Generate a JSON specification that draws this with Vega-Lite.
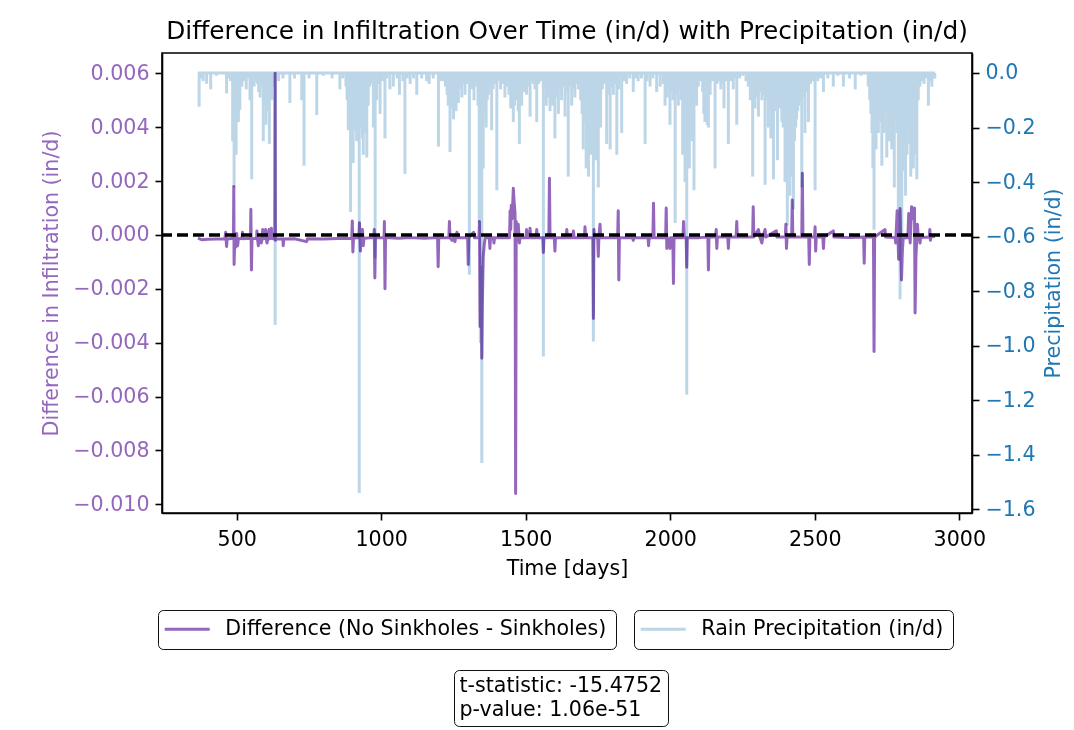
{
  "$schema": "https://vega.github.io/schema/vega-lite/v6.json",
  "width": 810,
  "height": 460,
  "autosize": "none",
  "padding": {"left": 162, "top": 53, "right": 102, "bottom": 217},
  "background": "white",
  "title": {"text": "Difference in Infiltration Over Time (in/d) with Precipitation (in/d)", "frame": "group", "anchor": "middle", "offset": 9.5, "fontSize": 24.8, "fontWeight": "normal", "font": "DejaVu Sans", "color": "black"},
  "datasets": {
    "diff": [
      {"t":366,"d":-0.00012},{"t":380,"d":-0.00018},{"t":400,"d":-0.00016},{"t":430,"d":-0.00015},{"t":459,"d":-0.00014},{"t":462,"d":0.0001},{"t":465,"d":-0.00043},{"t":467,"d":-0.00015},
      {"t":487,"d":-0.00012},{"t":489,"d":0.0001},{"t":490,"d":0.0018},{"t":491,"d":-0.0011},{"t":493,"d":-0.0002},{"t":497,"d":-0.00045},{"t":500,"d":0.00005},{"t":503,"d":-0.0004},{"t":506,"d":-0.00015},
      {"t":519,"d":-0.00012},{"t":520,"d":0.0001},{"t":521,"d":-0.00014},{"t":548,"d":-0.00012},{"t":549,"d":0.00095},{"t":551,"d":-0.0013},{"t":553,"d":-0.00015},
      {"t":569,"d":-0.00012},{"t":570,"d":0.00015},{"t":572,"d":-0.00014},{"t":575,"d":-0.0004},{"t":577,"d":-0.00015},{"t":584,"d":-0.00012},{"t":585,"d":-0.0003},{"t":588,"d":-0.00012},
      {"t":590,"d":0.0002},{"t":592,"d":-0.00014},{"t":599,"d":-0.00012},{"t":600,"d":0.0002},{"t":602,"d":-0.00013},{"t":605,"d":-0.0003},{"t":608,"d":-0.00013},{"t":612,"d":0.0002},{"t":614,"d":-0.00014},
      {"t":620,"d":0.00025},{"t":622,"d":-0.00013},{"t":632,"d":-0.00015},{"t":633,"d":0.006},{"t":634,"d":-0.0002},{"t":636,"d":-0.00015},{"t":660,"d":-0.00015},{"t":661,"d":-0.0004},{"t":663,"d":-0.00015},
      {"t":700,"d":-0.00014},{"t":742,"d":-0.00025},{"t":745,"d":-0.00014},{"t":800,"d":-0.00015},{"t":850,"d":-0.00013},{"t":898,"d":-0.00012},{"t":900,"d":0.00052},{"t":902,"d":-0.00063},{"t":904,"d":-0.00012},
      {"t":923,"d":-0.0001},{"t":925,"d":0.00045},{"t":928,"d":-0.0006},{"t":930,"d":-0.0001},{"t":935,"d":0.0002},{"t":938,"d":-0.0004},{"t":940,"d":-0.00012},
      {"t":974,"d":-0.0001},{"t":976,"d":0.0002},{"t":978,"d":-0.0016},{"t":980,"d":-0.0001},{"t":1010,"d":-0.0001},{"t":1011,"d":0.0005},{"t":1013,"d":-0.002},{"t":1015,"d":-0.0001},
      {"t":1060,"d":-0.00012},{"t":1100,"d":-0.0001},{"t":1150,"d":-0.00012},{"t":1195,"d":-0.0001},{"t":1197,"d":-0.00118},{"t":1199,"d":-0.0001},
      {"t":1234,"d":-0.0001},{"t":1236,"d":0.0005},{"t":1238,"d":-0.0001},{"t":1245,"d":-0.0002},{"t":1250,"d":-0.0001},{"t":1255,"d":-0.00025},{"t":1258,"d":-0.00008},{"t":1262,"d":0.0001},{"t":1265,"d":-0.0001},
      {"t":1299,"d":-0.0001},{"t":1301,"d":-0.0011},{"t":1303,"d":-0.0001},{"t":1320,"d":0.0001},{"t":1322,"d":-0.0001},
      {"t":1338,"d":-0.0001},{"t":1340,"d":0.0005},{"t":1342,"d":-0.0034},{"t":1344,"d":-0.0012},{"t":1346,"d":-0.0015},{"t":1348,"d":-0.00458},{"t":1350,"d":-0.0025},{"t":1353,"d":-0.0008},{"t":1357,"d":-0.0003},{"t":1360,"d":-0.0001},
      {"t":1374,"d":-0.0001},{"t":1376,"d":-0.0005},{"t":1378,"d":-0.0001},{"t":1388,"d":-0.0001},{"t":1390,"d":-0.0003},{"t":1392,"d":-0.0001},
      {"t":1444,"d":-0.0001},{"t":1446,"d":0.0009},{"t":1448,"d":0.0002},{"t":1450,"d":0.0011},{"t":1453,"d":0.0006},{"t":1457,"d":0.00173},{"t":1460,"d":0.0012},{"t":1463,"d":0.0008},{"t":1465,"d":-0.0096},{"t":1467,"d":0.0005},{"t":1470,"d":-0.0002},{"t":1474,"d":0.0004},{"t":1478,"d":-0.0003},{"t":1480,"d":-0.0001},
      {"t":1501,"d":-0.0001},{"t":1503,"d":0.0002},{"t":1505,"d":-0.0001},{"t":1513,"d":-0.0001},{"t":1515,"d":0.00025},{"t":1517,"d":-0.0001},{"t":1536,"d":-0.0001},{"t":1538,"d":0.0002},{"t":1540,"d":-0.0001},
      {"t":1559,"d":-0.0001},{"t":1561,"d":-0.00065},{"t":1563,"d":-0.0001},{"t":1580,"d":-0.0001},{"t":1582,"d":0.0021},{"t":1584,"d":-0.0001},{"t":1599,"d":-0.0001},{"t":1601,"d":-0.0006},{"t":1603,"d":-0.0001},
      {"t":1640,"d":-0.0001},{"t":1642,"d":0.0002},{"t":1644,"d":-0.0001},{"t":1663,"d":-0.0001},{"t":1665,"d":0.00015},{"t":1667,"d":-0.0001},{"t":1703,"d":-0.0001},{"t":1705,"d":0.0003},{"t":1707,"d":-0.0001},
      {"t":1732,"d":-0.0001},{"t":1734,"d":-0.0031},{"t":1736,"d":0.0002},{"t":1738,"d":-0.0001},{"t":1749,"d":-0.0001},{"t":1751,"d":-0.0008},{"t":1753,"d":-0.0001},{"t":1757,"d":0.0004},{"t":1759,"d":-0.0001},
      {"t":1800,"d":-0.0001},{"t":1818,"d":-0.0001},{"t":1820,"d":0.0009},{"t":1822,"d":-0.00167},{"t":1824,"d":-0.0001},{"t":1870,"d":-0.0001},{"t":1872,"d":-0.0002},{"t":1874,"d":-0.0001},
      {"t":1923,"d":-0.0001},{"t":1925,"d":-0.0004},{"t":1927,"d":-0.0001},{"t":1940,"d":-0.0001},{"t":1942,"d":0.00118},{"t":1944,"d":-0.0001},
      {"t":1984,"d":-0.0001},{"t":1986,"d":0.001},{"t":1988,"d":-0.0005},{"t":1990,"d":-0.0001},{"t":1999,"d":-0.0005},{"t":2001,"d":-0.0001},{"t":2009,"d":-0.0001},{"t":2011,"d":-0.0018},{"t":2013,"d":-0.0001},
      {"t":2044,"d":-0.0001},{"t":2046,"d":0.0005},{"t":2048,"d":-0.0001},{"t":2055,"d":-0.0001},{"t":2057,"d":-0.0012},{"t":2059,"d":-0.0001},{"t":2100,"d":-0.0001},
      {"t":2130,"d":-0.00008},{"t":2132,"d":-0.0013},{"t":2134,"d":-0.00008},{"t":2157,"d":-0.00008},{"t":2159,"d":0.0002},{"t":2161,"d":-0.0005},{"t":2163,"d":-0.00008},
      {"t":2199,"d":-0.00008},{"t":2201,"d":-0.0005},{"t":2203,"d":-0.00008},{"t":2228,"d":-0.00008},{"t":2230,"d":0.0005},{"t":2232,"d":-0.00008},
      {"t":2285,"d":-0.00008},{"t":2287,"d":0.00105},{"t":2289,"d":-0.00008},{"t":2305,"d":0.0002},{"t":2310,"d":-0.00008},{"t":2317,"d":-0.0003},{"t":2320,"d":-0.00008},{"t":2328,"d":0.0002},{"t":2330,"d":-0.00008},
      {"t":2367,"d":0.00015},{"t":2369,"d":-0.00008},{"t":2398,"d":-0.00008},{"t":2400,"d":0.0004},{"t":2402,"d":-0.0005},{"t":2404,"d":-0.00008},{"t":2420,"d":-0.00008},{"t":2422,"d":0.0013},{"t":2424,"d":-0.00008},
      {"t":2455,"d":-0.00008},{"t":2457,"d":0.00229},{"t":2459,"d":-0.00008},{"t":2479,"d":-0.00008},{"t":2481,"d":-0.0011},{"t":2483,"d":-0.00008},
      {"t":2499,"d":-0.00008},{"t":2501,"d":0.0003},{"t":2503,"d":-0.0006},{"t":2505,"d":-0.00008},{"t":2528,"d":-0.00008},{"t":2530,"d":-0.0005},{"t":2532,"d":-0.00008},{"t":2564,"d":0.00015},{"t":2566,"d":-0.00008},
      {"t":2620,"d":-0.0001},{"t":2669,"d":-0.00008},{"t":2671,"d":-0.00105},{"t":2673,"d":-0.00008},{"t":2703,"d":-0.00008},{"t":2705,"d":-0.00433},{"t":2707,"d":-0.00008},{"t":2743,"d":0.0002},{"t":2745,"d":-0.00008},
      {"t":2778,"d":-0.0001},{"t":2780,"d":-0.0003},{"t":2785,"d":0.0009},{"t":2790,"d":-0.0009},{"t":2795,"d":0.00098},{"t":2800,"d":-0.00167},{"t":2803,"d":-0.0006},{"t":2806,"d":-0.0001},
      {"t":2822,"d":-0.0001},{"t":2825,"d":0.0008},{"t":2830,"d":-0.0003},{"t":2835,"d":0.00105},{"t":2840,"d":0.0006},{"t":2845,"d":0.001},{"t":2847,"d":-0.0029},{"t":2850,"d":-0.0008},{"t":2855,"d":0.0004},{"t":2858,"d":-0.0001},
      {"t":2862,"d":-0.0001},{"t":2864,"d":-0.0003},{"t":2866,"d":-0.0001},{"t":2896,"d":-0.00008},{"t":2898,"d":0.0002},{"t":2900,"d":-0.0002},{"t":2902,"d":-0.00008},{"t":2916,"d":-0.00005}
    ],
    "rain": [
      {"t":370,"p":-0.124},{"t":375,"p":-0.02},{"t":384,"p":-0.03},{"t":396,"p":-0.04},{"t":410,"p":-0.06},{"t":430,"p":-0.01},{"t":465,"p":-0.075},{"t":472,"p":-0.02},{"t":479,"p":-0.03},
      {"t":486,"p":-0.25},{"t":491,"p":-0.42},{"t":498,"p":-0.3},{"t":502,"p":-0.12},{"t":506,"p":-0.18},{"t":511,"p":-0.135},{"t":518,"p":-0.05},{"t":525,"p":-0.03},{"t":533,"p":-0.06},{"t":540,"p":-0.02},
      {"t":546,"p":-0.1},{"t":552,"p":-0.39},{"t":560,"p":-0.05},{"t":566,"p":-0.03},{"t":571,"p":-0.04},{"t":576,"p":-0.07},{"t":581,"p":-0.09},{"t":586,"p":-0.05},{"t":592,"p":-0.25},{"t":596,"p":-0.12},
      {"t":601,"p":-0.19},{"t":606,"p":-0.06},{"t":610,"p":-0.14},{"t":613,"p":-0.26},{"t":617,"p":-0.08},{"t":621,"p":-0.1},{"t":626,"p":-0.05},{"t":633,"p":-0.924},{"t":645,"p":-0.03},{"t":660,"p":-0.02},
      {"t":684,"p":-0.11},{"t":700,"p":-0.02},{"t":725,"p":-0.1},{"t":733,"p":-0.34},{"t":750,"p":-0.02},{"t":777,"p":-0.154},{"t":800,"p":-0.01},{"t":830,"p":-0.02},{"t":857,"p":-0.06},{"t":867,"p":-0.02},
      {"t":878,"p":-0.05},{"t":882,"p":-0.1},{"t":886,"p":-0.21},{"t":890,"p":-0.15},{"t":894,"p":-0.51},{"t":899,"p":-0.2},{"t":903,"p":-0.33},{"t":906,"p":-0.12},{"t":909,"p":-0.21},{"t":912,"p":-0.16},
      {"t":915,"p":-0.25},{"t":918,"p":-0.14},{"t":921,"p":-0.22},{"t":924,"p":-1.54},{"t":927,"p":-0.18},{"t":930,"p":-0.2},{"t":933,"p":-0.15},{"t":935,"p":-0.24},{"t":938,"p":-0.3},{"t":941,"p":-0.17},
      {"t":944,"p":-0.22},{"t":947,"p":-0.13},{"t":950,"p":-0.31},{"t":955,"p":-0.12},{"t":960,"p":-0.05},{"t":966,"p":-0.04},{"t":973,"p":-0.2},{"t":979,"p":-0.68},{"t":984,"p":-0.1},{"t":990,"p":-0.04},
      {"t":996,"p":-0.15},{"t":1004,"p":-0.03},{"t":1013,"p":-0.24},{"t":1020,"p":-0.02},{"t":1030,"p":-0.06},{"t":1042,"p":-0.05},{"t":1055,"p":-0.02},{"t":1063,"p":-0.08},{"t":1075,"p":-0.03},{"t":1082,"p":-0.37},
      {"t":1090,"p":-0.02},{"t":1100,"p":-0.04},{"t":1112,"p":-0.02},{"t":1123,"p":-0.08},{"t":1140,"p":-0.02},{"t":1157,"p":-0.03},{"t":1166,"p":-0.04},{"t":1180,"p":-0.02},{"t":1198,"p":-0.27},{"t":1206,"p":-0.03},
      {"t":1215,"p":-0.03},{"t":1222,"p":-0.05},{"t":1228,"p":-0.08},{"t":1232,"p":-0.12},{"t":1238,"p":-0.29},{"t":1242,"p":-0.1},{"t":1246,"p":-0.13},{"t":1250,"p":-0.17},{"t":1254,"p":-0.12},{"t":1259,"p":-0.14},
      {"t":1263,"p":-0.09},{"t":1267,"p":-0.11},{"t":1272,"p":-0.06},{"t":1279,"p":-0.09},{"t":1285,"p":-0.04},{"t":1290,"p":-0.08},{"t":1296,"p":-0.04},{"t":1305,"p":-0.74},{"t":1309,"p":-0.03},{"t":1313,"p":-0.06},
      {"t":1317,"p":-0.04},{"t":1321,"p":-0.1},{"t":1326,"p":-0.03},{"t":1330,"p":-0.05},{"t":1335,"p":-0.12},{"t":1339,"p":-0.55},{"t":1343,"p":-0.99},{"t":1348,"p":-1.43},{"t":1353,"p":-0.35},{"t":1358,"p":-0.15},
      {"t":1363,"p":-0.2},{"t":1367,"p":-0.1},{"t":1371,"p":-0.08},{"t":1376,"p":-0.05},{"t":1382,"p":-0.21},{"t":1387,"p":-0.06},{"t":1393,"p":-0.04},{"t":1400,"p":-0.43},{"t":1406,"p":-0.03},{"t":1413,"p":-0.06},
      {"t":1420,"p":-0.04},{"t":1428,"p":-0.09},{"t":1436,"p":-0.05},{"t":1442,"p":-0.08},{"t":1448,"p":-0.13},{"t":1452,"p":-0.1},{"t":1457,"p":-0.18},{"t":1461,"p":-0.12},{"t":1466,"p":-0.1},{"t":1470,"p":-0.08},
      {"t":1474,"p":-0.14},{"t":1478,"p":-0.26},{"t":1482,"p":-0.09},{"t":1486,"p":-0.12},{"t":1490,"p":-0.05},{"t":1495,"p":-0.07},{"t":1503,"p":-0.08},{"t":1509,"p":-0.05},{"t":1515,"p":-0.16},{"t":1520,"p":-0.03},
      {"t":1526,"p":-0.04},{"t":1532,"p":-0.06},{"t":1538,"p":-0.18},{"t":1545,"p":-0.04},{"t":1552,"p":-0.03},{"t":1561,"p":-1.04},{"t":1567,"p":-0.05},{"t":1571,"p":-0.12},{"t":1575,"p":-0.09},{"t":1580,"p":-0.07},
      {"t":1584,"p":-0.14},{"t":1588,"p":-0.1},{"t":1593,"p":-0.12},{"t":1597,"p":-0.08},{"t":1601,"p":-0.24},{"t":1606,"p":-0.09},{"t":1613,"p":-0.15},{"t":1618,"p":-0.06},{"t":1624,"p":-0.1},{"t":1630,"p":-0.05},
      {"t":1636,"p":-0.16},{"t":1641,"p":-0.07},{"t":1647,"p":-0.38},{"t":1652,"p":-0.05},{"t":1659,"p":-0.12},{"t":1664,"p":-0.06},{"t":1670,"p":-0.09},{"t":1676,"p":-0.04},{"t":1682,"p":-0.06},{"t":1690,"p":-0.1},
      {"t":1695,"p":-0.15},{"t":1699,"p":-0.28},{"t":1704,"p":-0.18},{"t":1709,"p":-0.35},{"t":1713,"p":-0.22},{"t":1717,"p":-0.38},{"t":1721,"p":-0.25},{"t":1725,"p":-0.3},{"t":1730,"p":-0.2},{"t":1734,"p":-0.985},
      {"t":1738,"p":-0.15},{"t":1742,"p":-0.32},{"t":1746,"p":-0.18},{"t":1751,"p":-0.42},{"t":1755,"p":-0.12},{"t":1759,"p":-0.2},{"t":1765,"p":-0.06},{"t":1772,"p":-0.04},{"t":1780,"p":-0.26},{"t":1786,"p":-0.08},
      {"t":1792,"p":-0.28},{"t":1797,"p":-0.05},{"t":1803,"p":-0.08},{"t":1809,"p":-0.04},{"t":1815,"p":-0.3},{"t":1822,"p":-0.06},{"t":1832,"p":-0.22},{"t":1840,"p":-0.03},{"t":1849,"p":-0.04},{"t":1860,"p":-0.02},
      {"t":1872,"p":-0.07},{"t":1880,"p":-0.02},{"t":1889,"p":-0.03},{"t":1900,"p":-0.02},{"t":1913,"p":-0.26},{"t":1920,"p":-0.03},{"t":1930,"p":-0.05},{"t":1940,"p":-0.02},{"t":1953,"p":-0.07},{"t":1965,"p":-0.05},
      {"t":1975,"p":-0.04},{"t":1982,"p":-0.12},{"t":1986,"p":-0.06},{"t":1990,"p":-0.09},{"t":1995,"p":-0.05},{"t":1999,"p":-0.19},{"t":2004,"p":-0.07},{"t":2009,"p":-0.1},{"t":2013,"p":-0.05},{"t":2017,"p":-0.55},
      {"t":2022,"p":-0.08},{"t":2028,"p":-0.12},{"t":2033,"p":-0.06},{"t":2038,"p":-0.1},{"t":2043,"p":-0.3},{"t":2047,"p":-0.15},{"t":2051,"p":-0.4},{"t":2057,"p":-1.18},{"t":2062,"p":-0.2},{"t":2066,"p":-0.35},
      {"t":2070,"p":-0.12},{"t":2074,"p":-0.25},{"t":2078,"p":-0.1},{"t":2082,"p":-0.43},{"t":2087,"p":-0.08},{"t":2091,"p":-0.12},{"t":2097,"p":-0.05},{"t":2105,"p":-0.03},{"t":2112,"p":-0.07},{"t":2116,"p":-0.15},
      {"t":2120,"p":-0.18},{"t":2124,"p":-0.08},{"t":2128,"p":-0.19},{"t":2132,"p":-0.2},{"t":2138,"p":-0.08},{"t":2146,"p":-0.03},{"t":2155,"p":-0.35},{"t":2162,"p":-0.04},{"t":2170,"p":-0.03},{"t":2175,"p":-0.06},
      {"t":2181,"p":-0.04},{"t":2186,"p":-0.13},{"t":2193,"p":-0.03},{"t":2201,"p":-0.26},{"t":2210,"p":-0.03},{"t":2218,"p":-0.06},{"t":2224,"p":-0.02},{"t":2230,"p":-0.19},{"t":2240,"p":-0.02},{"t":2250,"p":-0.01},
      {"t":2262,"p":-0.03},{"t":2270,"p":-0.05},{"t":2277,"p":-0.1},{"t":2281,"p":-0.07},{"t":2285,"p":-0.38},{"t":2289,"p":-0.08},{"t":2293,"p":-0.13},{"t":2297,"p":-0.06},{"t":2301,"p":-0.09},{"t":2305,"p":-0.16},
      {"t":2309,"p":-0.07},{"t":2313,"p":-0.05},{"t":2317,"p":-0.1},{"t":2322,"p":-0.08},{"t":2328,"p":-0.41},{"t":2333,"p":-0.1},{"t":2339,"p":-0.2},{"t":2343,"p":-0.12},{"t":2348,"p":-0.24},{"t":2352,"p":-0.1},
      {"t":2357,"p":-0.39},{"t":2362,"p":-0.09},{"t":2366,"p":-0.14},{"t":2371,"p":-0.32},{"t":2376,"p":-0.1},{"t":2381,"p":-0.13},{"t":2386,"p":-0.18},{"t":2391,"p":-0.2},{"t":2397,"p":-0.4},{"t":2401,"p":-0.3},
      {"t":2405,"p":-0.56},{"t":2409,"p":-0.35},{"t":2414,"p":-0.45},{"t":2418,"p":-0.3},{"t":2422,"p":-0.38},{"t":2426,"p":-0.5},{"t":2430,"p":-0.25},{"t":2434,"p":-0.2},{"t":2437,"p":-0.17},{"t":2441,"p":-0.14},
      {"t":2446,"p":-0.12},{"t":2450,"p":-0.1},{"t":2455,"p":-0.42},{"t":2460,"p":-0.09},{"t":2466,"p":-0.22},{"t":2471,"p":-0.07},{"t":2478,"p":-0.18},{"t":2485,"p":-0.04},{"t":2492,"p":-0.03},{"t":2501,"p":-0.43},
      {"t":2510,"p":-0.03},{"t":2520,"p":-0.02},{"t":2530,"p":-0.07},{"t":2545,"p":-0.02},{"t":2564,"p":-0.05},{"t":2580,"p":-0.01},{"t":2599,"p":-0.05},{"t":2620,"p":-0.02},{"t":2640,"p":-0.06},{"t":2660,"p":-0.01},
      {"t":2685,"p":-0.05},{"t":2690,"p":-0.1},{"t":2694,"p":-0.15},{"t":2698,"p":-0.22},{"t":2701,"p":-0.35},{"t":2705,"p":-0.575},{"t":2709,"p":-0.2},{"t":2712,"p":-0.28},{"t":2716,"p":-0.15},{"t":2720,"p":-0.22},
      {"t":2724,"p":-0.12},{"t":2728,"p":-0.18},{"t":2732,"p":-0.34},{"t":2736,"p":-0.16},{"t":2740,"p":-0.22},{"t":2745,"p":-0.14},{"t":2749,"p":-0.31},{"t":2753,"p":-0.18},{"t":2758,"p":-0.25},{"t":2762,"p":-0.15},
      {"t":2766,"p":-0.28},{"t":2770,"p":-0.2},{"t":2775,"p":-0.42},{"t":2779,"p":-0.18},{"t":2784,"p":-0.22},{"t":2789,"p":-0.5},{"t":2795,"p":-0.83},{"t":2801,"p":-0.6},{"t":2806,"p":-0.36},{"t":2810,"p":-0.25},
      {"t":2814,"p":-0.45},{"t":2819,"p":-0.3},{"t":2824,"p":-0.2},{"t":2828,"p":-0.26},{"t":2832,"p":-0.38},{"t":2836,"p":-0.22},{"t":2841,"p":-0.35},{"t":2845,"p":-0.28},{"t":2849,"p":-0.3},{"t":2853,"p":-0.39},
      {"t":2858,"p":-0.1},{"t":2864,"p":-0.05},{"t":2872,"p":-0.03},{"t":2878,"p":-0.04},{"t":2885,"p":-0.02},{"t":2893,"p":-0.12},{"t":2899,"p":-0.03},{"t":2905,"p":-0.05},{"t":2912,"p":-0.02},{"t":2915,"p":-0.02}
    ],
    "span": [{"a": 366, "b": 2916}],
    "stats": [{"s": "t-statistic: -15.4752"}, {"s": "p-value: 1.06e-51"}]
  },
  "layer": [
    {
      "layer": [
        {
          "data": {"name": "rain"},
          "mark": {"type": "rule", "strokeWidth": 3},
          "encoding": {
            "x": {"field": "t", "type": "quantitative", "title": "Time [days]", "scale": {"domain": [241.6, 3043.9], "nice": false, "zero": false},
                  "axis": {"values": [500, 1000, 1500, 2000, 2500, 3000], "format": "d", "titlePadding": 9, "labelPadding": 9}},
            "y": {"field": "p", "type": "quantitative", "title": "Precipitation (in/d)", "scale": {"domain": [-1.6136, 0.0733], "nice": false, "zero": false},
                  "axis": {"orient": "right", "values": [-1.6, -1.4, -1.2, -1.0, -0.8, -0.6, -0.4, -0.2, 0], "format": ".1f", "labelColor": "#1f77b4", "titleColor": "#1f77b4", "titleAngle": 270, "titleBaseline": "top", "titlePadding": 8}},
            "y2": {"datum": 0},
            "color": {"datum": "Rain Precipitation (in/d)", "scale": {"range": ["#bcd6e8"]},
                      "legend": {"orient": "none", "legendX": 472, "legendY": 557, "title": null}}
          }
        },
        {
          "data": {"name": "span"},
          "mark": {"type": "rule", "strokeWidth": 3, "color": "#bcd6e8"},
          "encoding": {
            "x": {"field": "a", "type": "quantitative", "title": "Time [days]"},
            "x2": {"field": "b"},
            "y": {"datum": 0, "type": "quantitative", "title": "Precipitation (in/d)"}
          }
        }
      ]
    },
    {
      "layer": [
        {
          "data": {"name": "diff"},
          "mark": {"type": "line", "strokeWidth": 3, "blend": "multiply", "strokeJoin": "round"},
          "encoding": {
            "x": {"field": "t", "type": "quantitative", "title": "Time [days]"},
            "y": {"field": "d", "type": "quantitative", "title": "Difference in Infiltration (in/d)", "scale": {"domain": [-0.010323, 0.006754], "nice": false, "zero": false},
                  "axis": {"orient": "left", "values": [-0.01, -0.008, -0.006, -0.004, -0.002, 0, 0.002, 0.004, 0.006], "format": ".3f", "labelColor": "#9467bd", "titleColor": "#9467bd", "titlePadding": 11}},
            "color": {"datum": "Difference (No Sinkholes - Sinkholes)", "scale": {"range": ["#9467bd"]},
                      "legend": {"orient": "none", "legendX": -4, "legendY": 557, "title": null}}
          }
        },
        {
          "data": {"name": "stats"},
          "mark": {"type": "rule", "color": "black", "strokeWidth": 3},
          "encoding": {
            "y": {"datum": 0, "type": "quantitative"},
            "strokeDash": {"field": "s", "type": "nominal",
                           "scale": {"domain": ["t-statistic: -15.4752", "p-value: 1.06e-51"], "range": [[11, 5], [11, 5]]},
                           "legend": {"orient": "none", "legendX": 292, "legendY": 617, "title": null, "padding": 5.5, "symbolType": "circle", "symbolSize": 0, "symbolStrokeWidth": 0, "symbolOpacity": 0, "symbolOffset": 0, "labelOffset": -20.6, "rowPadding": 3}}
          }
        }
      ]
    }
  ],
  "resolve": {"scale": {"y": "independent", "color": "independent"}},
  "config": {
    "font": "DejaVu Sans",
    "view": {"stroke": "black", "strokeWidth": 1.6},
    "axis": {"grid": false, "labelFont": "DejaVu Sans", "titleFont": "DejaVu Sans", "labelFontSize": 20.6, "titleFontSize": 20.6, "titleFontWeight": "normal",
             "labelColor": "black", "titleColor": "black", "tickColor": "black", "domainColor": "black", "tickSize": 7, "tickWidth": 1.6, "domainWidth": 1.6,
             "labelPadding": 6, "labelFlush": false, "labelOverlap": false, "labelLimit": 300},
    "legend": {"labelFont": "DejaVu Sans", "labelFontSize": 20.6, "labelColor": "black", "labelLimit": 1000, "padding": 9,
               "strokeColor": "#111111", "cornerRadius": 5, "fillColor": "white", "symbolType": "M-4,0H4", "symbolStrokeWidth": 3,
               "symbolSize": 126.6, "symbolOffset": 9.9, "labelOffset": 27.8}
  }
}
